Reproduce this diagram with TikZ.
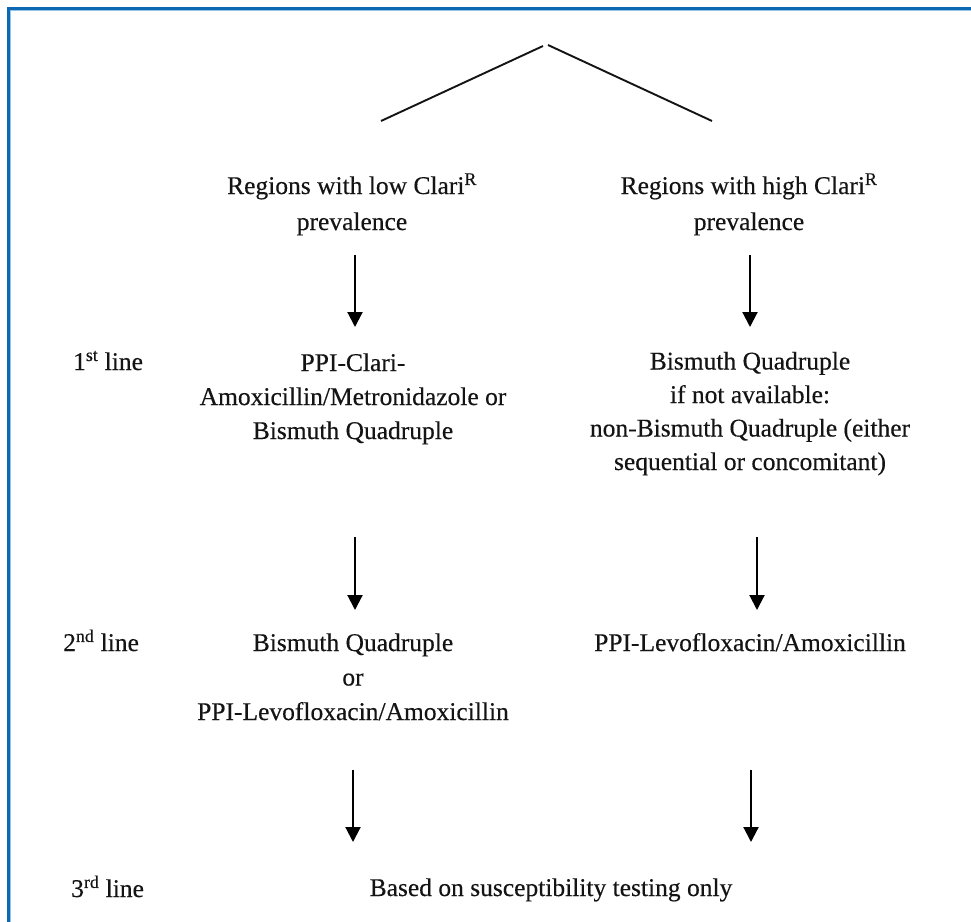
\documentclass[tikz,border=0pt]{standalone}
\usepackage{fontspec}
\setmainfont{Liberation Serif}[FakeBold=0.35]
\usetikzlibrary{arrows.meta}
\definecolor{framedark}{RGB}{12,104,178}
\definecolor{framelight}{RGB}{150,196,232}
\definecolor{ink}{RGB}{20,20,20}
\tikzset{
  txt/.style={font=\fontsize{25.5}{34}\selectfont, text=ink, align=center, inner sep=0pt, anchor=base},
  lbl/.style={font=\fontsize{25.5}{34}\selectfont, text=ink, inner sep=0pt, anchor=base west},
  arr/.style={line width=2.1pt, -{Triangle[length=15pt,width=15pt]}},
  apex/.style={line width=1.9pt, draw=ink}
}
\begin{document}
\begin{tikzpicture}[x=1pt,y=-1pt]
\useasboundingbox (0,0) rectangle (971,921);
\begin{scope}
\clip (0,0) rectangle (971,921);
\fill[white] (0,0) rectangle (971,921);
\draw[framedark, line width=3pt] (8.5,8) rectangle (990,940);
\draw[framelight, line width=1pt] (10.5,10) rectangle (990,940);
\end{scope}

% apex lines
\coordinate (apexL) at (543,46);
\coordinate (apexR) at (548,45);
\coordinate (legL) at (381,121);
\coordinate (legR) at (712,121);
\draw[apex] (apexL) -- (legL);
\draw[apex] (apexR) -- (legR);

% headings (anchor = baseline of last line)
\node[txt, font=\fontsize{25.5}{36}\selectfont] (lowhead) at (352,230) {Regions with low Clari\textsuperscript{R}\\prevalence};
\node[txt, font=\fontsize{25.5}{36}\selectfont] (highhead) at (749,230) {Regions with high Clari\textsuperscript{R}\\prevalence};

% row labels
\node[lbl] (l1) at (73,370) {1\textsuperscript{st} line};
\node[lbl] (l2) at (63,651) {2\textsuperscript{nd} line};
\node[lbl] (l3) at (71,897) {3\textsuperscript{rd} line};

% first line
\node[txt] (low1) at (353,439) {PPI-Clari-\\Amoxicillin/Metronidazole or\\Bismuth Quadruple};
\node[txt, font=\fontsize{25.5}{33.5}\selectfont] (high1) at (750,470) {Bismuth Quadruple\\if not available:\\non-Bismuth Quadruple (either\\sequential or concomitant)};

% second line
\node[txt, font=\fontsize{25.5}{34.5}\selectfont] (low2) at (353,720) {Bismuth Quadruple\\or\\PPI-Levofloxacin/Amoxicillin};
\node[txt] (high2) at (750,651) {PPI-Levofloxacin/Amoxicillin};

% third line
\node[txt] (final) at (551,896) {Based on susceptibility testing only};

% arrows
\coordinate (a1s) at (355,255); \coordinate (a1e) at (355,327);
\coordinate (b1s) at (750,255); \coordinate (b1e) at (750,327);
\coordinate (a2s) at (355,537); \coordinate (a2e) at (355,610);
\coordinate (b2s) at (757,537); \coordinate (b2e) at (757,610);
\coordinate (a3s) at (353,770); \coordinate (a3e) at (353,842);
\coordinate (b3s) at (751,770); \coordinate (b3e) at (751,842);
\draw[arr] (a1s) -- (a1e);
\draw[arr] (b1s) -- (b1e);
\draw[arr] (a2s) -- (a2e);
\draw[arr] (b2s) -- (b2e);
\draw[arr] (a3s) -- (a3e);
\draw[arr] (b3s) -- (b3e);
\end{tikzpicture}
\end{document}
